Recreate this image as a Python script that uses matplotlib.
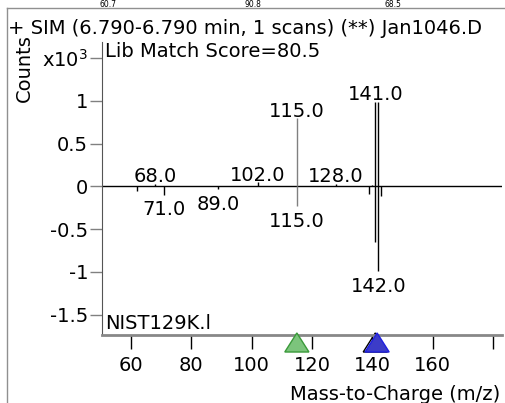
import numpy as np
import matplotlib.pyplot as plt
from matplotlib.patches import Polygon

# sample spectrum (up) and library spectrum (down), x10^3 counts
sample_mz = [68, 89, 102, 114, 115, 116, 126, 128, 140, 141, 142, 171]
sample_ab = [0.03, 0.01, 0.05, 0.01, 0.80, 0.01, 0.01, 0.03, 0.02, 0.99, 0.99, 0.01]
library_mz = [62, 71, 89, 115, 139, 141, 142, 143]
library_ab = [-0.05, -0.10, -0.03, -0.23, -0.09, -0.65, -0.99, -0.11]

sample_labels = [68, 102, 115, 128, 141]
library_labels = [71, 89, 115, 142]

xticks = [60, 80, 100, 120, 140, 160, 180]
yticks = [-1.5, -1, -0.5, 0, 0.5, 1, 1.5]
ytick_labels = ['-1.5', '-1', '-0.5', '0', '0.5', '1', 'x10$^3$']

ion_marks = [115, 141.6]
ion_colors = [('#7cc47c', '#3a9a3a'), ('#3c3cc8', '#2020e0')]

fs = 14
plt.rcParams['font.family'] = 'DejaVu Sans'

fig = plt.figure(figsize=(5.05, 4.03), dpi=100)
ax = fig.add_axes([0.202, 0.1687, 0.792, 0.727])

def pk_color(m):
    return '#808080' if m == 115 else 'black'

ax.axhline(0, color='black', lw=1)
ax.vlines(sample_mz, 0, sample_ab, colors=[pk_color(m) for m in sample_mz], lw=1)
ax.vlines(library_mz, 0, library_ab, colors=[pk_color(m) for m in library_mz], lw=1)

for m in sample_labels:
    h = sample_ab[sample_mz.index(m)]
    ax.annotate('%.1f' % m, (m, h), xytext=(0, 1), textcoords='offset points',
                ha='center', va='baseline', fontsize=fs)
for m in library_labels:
    h = library_ab[library_mz.index(m)]
    ax.annotate('%.1f' % m, (m, h), xytext=(0, -4), textcoords='offset points',
                ha='center', va='top', fontsize=fs)

# precursor / ion markers under the axis
trans = ax.get_xaxis_transform()
ax.add_patch(Polygon([[ion_marks[1] - 4.6, -0.058], [ion_marks[1] - 0.6, 0.007],
                      [ion_marks[1] + 3.4, -0.058]], closed=True, fc='none',
                     ec='black', lw=1, transform=trans, clip_on=False))
for m, (fc, ec) in zip(ion_marks, ion_colors):
    ax.add_patch(Polygon([[m - 4, -0.058], [m, 0.007], [m + 4, -0.058]], closed=True,
                         fc=fc, ec=ec, lw=1, transform=trans, clip_on=False, zorder=5))

ax.set_xlim(50.4, 183)
ax.set_ylim(-1.74, 1.69)
ax.set_xticks(xticks)
ax.set_xticklabels([str(t) if t != 180 else '' for t in xticks], fontsize=fs)
ax.set_yticks(yticks)
ax.set_yticklabels(ytick_labels, fontsize=fs)
ax.tick_params(axis='x', length=10, width=1, color='black', pad=5)
ax.tick_params(axis='y', length=9, width=1, color='#808080', pad=1)

for s in ['top', 'right']:
    ax.spines[s].set_visible(False)
ax.spines['left'].set_color('#555555')
ax.spines['bottom'].set_color('#888888')
ax.spines['bottom'].set_linewidth(2)

ax.text(0.008, 1.0, 'Lib Match Score=80.5', transform=ax.transAxes,
        ha='left', va='top', fontsize=fs)
ax.text(0.008, 0.008, 'NIST129K.l', transform=ax.transAxes,
        ha='left', va='bottom', fontsize=fs)

fig.text(0.016, 0.93, '+ SIM (6.790-6.790 min, 1 scans) (**) Jan1046.D',
         ha='left', va='center', fontsize=fs)
fig.text(0.048, 0.83, 'Counts', rotation=90, ha='center', va='center', fontsize=fs)
fig.text(0.99, 0.02, 'Mass-to-Charge (m/z)', ha='right', va='center', fontsize=fs)

# labels from the panel above (cropped in the screenshot)
for x, t in [(0.214, '60.7'), (0.5, '90.8'), (0.778, '68.5')]:
    fig.text(x, 0.999, t, ha='center', va='top', fontsize=5.5)

# frame of the panel
fig.add_artist(plt.Line2D([0.013, 1], [0.981, 0.981], color='#909090', lw=1))
fig.add_artist(plt.Line2D([0.013, 0.013], [0, 0.981], color='#909090', lw=1))

fig.savefig('out.png', dpi=100)
